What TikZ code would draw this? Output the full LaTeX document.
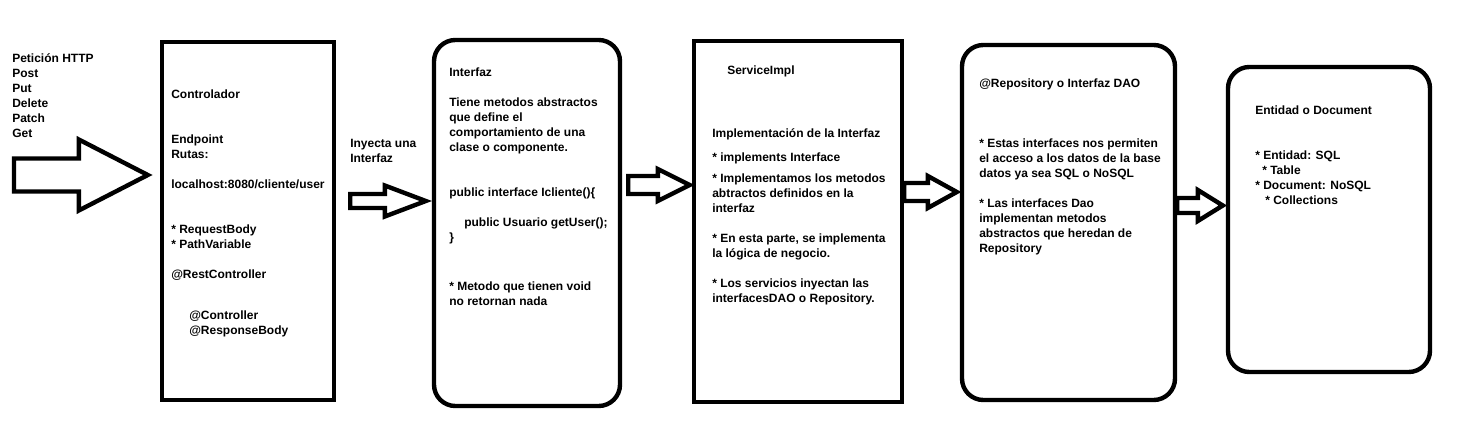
\documentclass[tikz,border=0pt]{standalone}
\usepackage{fontspec}
\setmainfont{Liberation Sans}
\usetikzlibrary{calc, fit}

\newcommand\pxu{0.75pt}
\newcommand\bigarrow[5]{%
  \draw[blockarrow] let \p1 = (#1), \p2 = (#2) in
    (\x1, {\y1+#3*\pxu}) -- ({\x2-#5*\pxu}, {\y1+#3*\pxu})
    -- ({\x2-#5*\pxu}, {\y1+#4*\pxu}) -- (\x2, \y1)
    -- ({\x2-#5*\pxu}, {\y1-#4*\pxu}) -- ({\x2-#5*\pxu}, {\y1-#3*\pxu})
    -- (\x1, {\y1-#3*\pxu}) -- cycle;}

\begin{document}
\begin{tikzpicture}[x=0.75pt, y=-0.75pt,
      sqbox/.style={draw, line width=3.3pt, inner sep=0pt},
      rdbox/.style={sqbox, rounded corners=16pt},
      blockarrow/.style={draw, fill=white, line width=3.3pt, line join=miter},
      txt/.style={anchor=north west, inner sep=0pt, align=left,
        font=\fontsize{9}{11.25}\selectfont\bfseries}]
    \useasboundingbox (0,0) rectangle (1465,428);
    \node[sqbox, fit={(162,42) (334,400)}] (ctrl) {};
    \node[rdbox, fit={(434,40) (620,406)}] (iface) {};
    \node[sqbox, fit={(694,41) (902,402)}] (svc) {};
    \node[rdbox, fit={(962,45) (1175,400)}] (repo) {};
    \node[rdbox, fit={(1228,67) (1430,372)}] (ent) {};

    \node[txt] (http) at (12,51.5) {\strut Petición HTTP\\Post\\Put\\Delete\\Patch\\Get};
    \node[txt] (inyecta) at (350,136.5) {\strut Inyecta una\\Interfaz};
    \node[txt] (ctrltxt) at (171,87.5) {%
      \strut Controlador\\[22.5pt]
      Endpoint\\
      Rutas:\\[11.25pt]
      localhost:8080/cliente/user\\[22.5pt]
      {*} RequestBody\\
      {*} PathVariable\\[11.25pt]
      @RestController\\[19.5pt]
      \hspace*{13.5pt}@Controller\\
      \hspace*{13.5pt}@ResponseBody};
    \node[txt] (ifacetxt) at (449,65.5) {%
      \strut Interfaz\\[11.25pt]
      Tiene metodos abstractos\\
      que define el\\
      comportamiento de una\\
      clase o componente.\\[22.5pt]
      public interface Icliente()\{\\[11.25pt]
      \hspace*{11.25pt}public Usuario getUser();\\
      \}\\[25.5pt]
      {*} Metodo que tienen void\\
      no retornan nada};
    \node[txt] (svctxt) at (712,63.5) {%
      \strut\hspace*{11.25pt}ServiceImpl\\[36pt]
      Implementación de la Interfaz\\[6.75pt]
      {*} implements Interface\\[4.5pt]
      {*} Implementamos los metodos\\
      abtractos definidos en la\\
      interfaz\\[11.25pt]
      {*} En esta parte, se implementa\\
      la lógica de negocio.\\[11.25pt]
      {*} Los servicios inyectan las\\
      interfacesDAO o Repository.};
    \node[txt] (repotxt) at (979,76.5) {%
      \strut @Repository o Interfaz DAO\\[33.75pt]
      {*} Estas interfaces nos permiten\\
      el acceso a los datos de la base\\
      datos ya sea SQL o NoSQL\\[11.25pt]
      {*} Las interfaces Dao\\
      implementan metodos\\
      abstractos que heredan de\\
      Repository};
    \node[txt] (enttxt) at (1255,103.5) {%
      \strut Entidad o Document\\[22.5pt]
      {*} Entidad: SQL\\
      \hspace*{5.25pt}{*} Table\\
      {*} Document: NoSQL\\
      \hspace*{7.5pt}{*} Collections};

    \coordinate (in) at (14,175);
    \coordinate (a2) at ($(ctrl.east)+(14,-20)$);
    \coordinate (a3) at ($(iface.east)+(6,-38)$);
    \coordinate (a4) at ($(svc.east)+(0,-29.5)$);
    \coordinate (a5) at ($(repo.east)+(0,-17)$);
    \bigarrow{in}{$(ctrl.west |- in)+(-12,0)$}{16.5}{35.5}{69}
    \bigarrow{a2}{$(iface.west |- a2)+(-6,0)$}{7}{15.5}{41}
    \bigarrow{a3}{$(svc.west |- a3)+(-2,0)$}{9}{16}{32}
    \bigarrow{a4}{$(repo.west |- a4)+(-3,0)$}{9}{16}{29}
    \bigarrow{a5}{$(ent.west |- a5)+(-3,0)$}{7.5}{15.5}{25}
\end{tikzpicture}
\end{document}
